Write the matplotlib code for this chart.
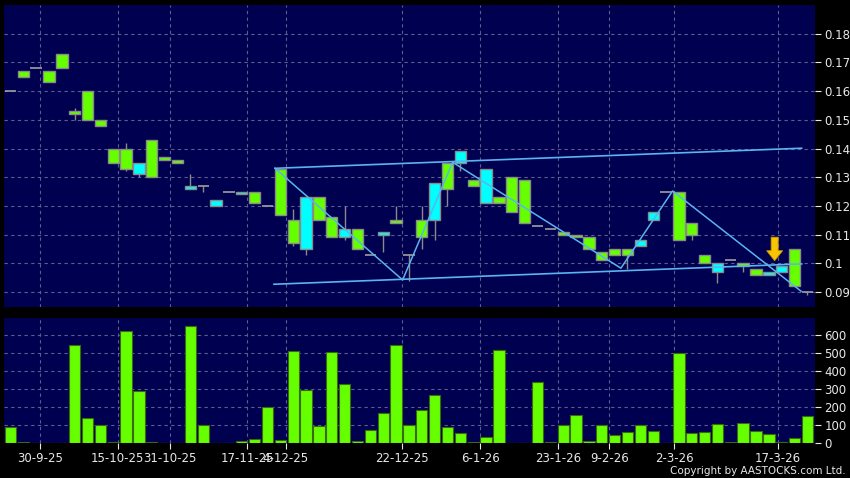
import matplotlib
matplotlib.use("Agg")
import matplotlib.pyplot as plt
import numpy as np

# ---- data (index = trading session) ----
opens  = [0.160,0.167,0.168,0.167,0.173,0.153,0.160,0.150,0.140,0.140,
          0.131,0.143,0.137,0.136,0.126,0.127,0.120,0.125,0.124,0.125,
          0.120,0.133,0.115,0.105,0.123,0.116,0.109,0.112,0.103,0.110,
          0.115,0.103,0.115,0.115,0.135,0.135,0.129,0.121,0.123,0.130,
          0.129,0.113,0.112,0.111,0.110,0.109,0.104,0.105,0.105,0.106,
          0.115,0.125,0.125,0.114,0.103,0.097,0.101,0.100,0.098,0.096,
          0.097,0.105,0.090]
closes = [0.160,0.165,0.168,0.163,0.168,0.152,0.150,0.148,0.135,0.133,
          0.135,0.130,0.136,0.135,0.127,0.127,0.122,0.125,0.125,0.121,
          0.120,0.117,0.107,0.123,0.115,0.109,0.112,0.105,0.103,0.111,
          0.114,0.103,0.109,0.128,0.126,0.139,0.127,0.133,0.121,0.118,
          0.114,0.113,0.112,0.110,0.109,0.105,0.101,0.103,0.103,0.108,
          0.118,0.125,0.108,0.110,0.100,0.100,0.101,0.099,0.096,0.097,
          0.099,0.092,0.090]
highs  = [0.160,0.167,0.168,0.167,0.173,0.154,0.160,0.150,0.140,0.142,
          0.135,0.143,0.137,0.136,0.131,0.127,0.122,0.125,0.125,0.125,
          0.120,0.133,0.119,0.123,0.123,0.116,0.120,0.112,0.103,0.111,
          0.120,0.103,0.120,0.128,0.135,0.139,0.129,0.133,0.123,0.130,
          0.129,0.113,0.112,0.111,0.110,0.109,0.104,0.105,0.105,0.108,
          0.118,0.125,0.125,0.114,0.103,0.100,0.101,0.100,0.098,0.097,
          0.099,0.105,0.090]
lows   = [0.160,0.165,0.168,0.163,0.168,0.150,0.150,0.148,0.135,0.132,
          0.130,0.130,0.136,0.135,0.126,0.125,0.120,0.125,0.124,0.121,
          0.120,0.117,0.106,0.103,0.115,0.109,0.108,0.105,0.103,0.104,
          0.114,0.094,0.105,0.108,0.120,0.132,0.127,0.121,0.121,0.118,
          0.114,0.113,0.112,0.110,0.109,0.105,0.101,0.103,0.098,0.106,
          0.115,0.125,0.108,0.108,0.100,0.093,0.101,0.097,0.096,0.096,
          0.097,0.092,0.089]
volumes = [90,5,0,0,0,545,140,100,5,620,
           290,5,3,0,650,100,3,2,15,25,
           200,20,510,295,95,505,330,10,75,170,
           545,100,185,270,90,55,5,35,515,3,
           3,340,5,100,155,15,100,45,60,100,
           70,0,500,55,65,105,5,115,70,50,
           5,30,150]

tick_pos = [2.32, 8.35, 12.41, 18.42, 21.42, 30.49, 36.54, 42.61, 46.6, 51.63, 59.7]
tick_labels = ["30-9-25", "15-10-25", "31-10-25", "17-11-25", "4-12-25", "22-12-25",
               "6-1-26", "23-1-26", "9-2-26", "2-3-26", "17-3-26"]

# trend lines drawn on the chart
upper_x = [20.58, 61.55]; upper_y = [0.1331, 0.1401]
lower_x = [20.50, 61.55]; lower_y = [0.0927, 0.0998]
zig_x = [20.58, 30.51, 34.40, 47.49, 51.51, 61.50]
zig_y = [0.1331, 0.0942, 0.1352, 0.0983, 0.1252, 0.0903]
arrow_x, arrow_top, arrow_tip = 59.45, 0.1091, 0.1009

price_ticks = [0.09, 0.10, 0.11, 0.12, 0.13, 0.14, 0.15, 0.16, 0.17, 0.18]
vol_ticks = [0, 100, 200, 300, 400, 500, 600]

# ---- style ----
BG = "#000050"
GREEN = "#66ff00"
CYAN = "#00ffff"
EDGE = "#8a8a8a"
GRID = "#5c5c90"
LINE = "#5ab4f0"
TXT = "#e8e8e8"

fig = plt.figure(figsize=(8.5, 4.78), dpi=100, facecolor="black")
W, H = 850, 478
ax = fig.add_axes([4/W, 1-306.7/H, 810.5/W, (306.7-5)/H])
axv = fig.add_axes([4/W, 1-443.3/H, 810.5/W, (443.3-317.7)/H])

x = np.arange(len(opens))
o = np.array(opens); c = np.array(closes)
hi = np.array(highs); lo = np.array(lows)
bw = 0.88

for a in (ax, axv):
    a.set_facecolor(BG)
    for s in a.spines.values():
        s.set_visible(False)
    a.set_xlim(-0.5, 62.55)
    a.set_xticks(tick_pos)
    a.grid(True, color=GRID, linestyle=(0, (3, 3)), linewidth=0.8)
    a.set_axisbelow(True)
    a.yaxis.tick_right()
    a.tick_params(axis="y", colors=TXT, labelsize=8.5, length=4, width=0.8, pad=3)

# wicks
ax.vlines(x, lo, hi, color=EDGE, linewidth=1.0, zorder=2)
# bodies
doji = o == c
up = c > o
down = c < o
ax.bar(x[down], (o - c)[down], bottom=c[down], width=bw, color=GREEN,
       edgecolor=EDGE, linewidth=1.0, zorder=3)
ax.bar(x[up], (c - o)[up], bottom=o[up], width=bw, color=CYAN,
       edgecolor=EDGE, linewidth=1.0, zorder=3)
ax.hlines(o[doji], x[doji] - bw/2, x[doji] + bw/2, color="#a0a0a0", linewidth=1.2, zorder=3)

# trend lines
ax.plot(upper_x, upper_y, color=LINE, linewidth=1.2, zorder=4)
ax.plot(lower_x, lower_y, color=LINE, linewidth=1.2, zorder=4)
ax.plot(zig_x, zig_y, color=LINE, linewidth=1.1, zorder=4)

# arrow
ax.arrow(arrow_x, arrow_top, 0, arrow_tip - arrow_top, width=0.55, head_width=1.25,
         head_length=0.0035, length_includes_head=True, color="#f7c600",
         ec="#c89000", linewidth=0.6, zorder=5)

ax.set_ylim(0.08488, 0.19)
ax.set_yticks(price_ticks)
ax.set_yticklabels([f"{v:g}" for v in price_ticks])
ax.tick_params(axis="x", bottom=False, labelbottom=False)

axv.bar(x, volumes, width=bw, color=GREEN, edgecolor="#3a6a10", linewidth=0.8, zorder=3)
axv.set_ylim(0, 696)
axv.set_yticks(vol_ticks)
axv.set_yticklabels([str(v) for v in vol_ticks])
axv.set_xticklabels(tick_labels)
axv.tick_params(axis="x", colors=TXT, labelsize=8.5, length=4, width=0.8, pad=2)

fig.text(846/W, 1-471/H, "Copyright by AASTOCKS.com Ltd.", ha="right", va="center",
         color=TXT, fontsize=7.5)

fig.savefig("out.png", dpi=100, facecolor="black")
